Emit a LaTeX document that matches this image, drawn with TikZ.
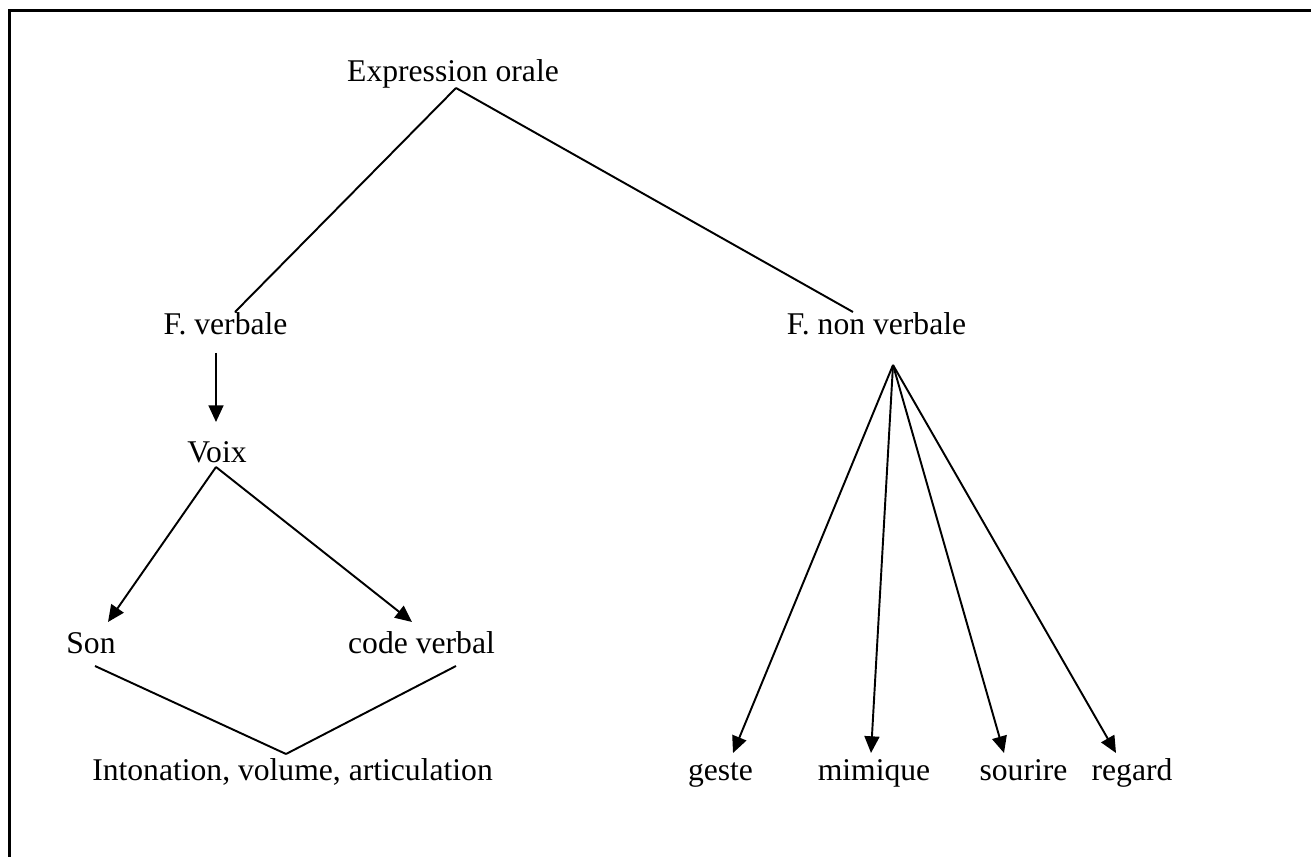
\documentclass[tikz,border=0pt]{standalone}
\usepackage{fontspec}
\setmainfont{Liberation Serif}
\usetikzlibrary{arrows.meta,calc}

\begin{document}
\begin{tikzpicture}[x=0.02cm, y=-0.02cm, line width=1.1pt, >={Triangle[length=9.5pt, width=8.5pt]}]
    \tikzstyle{mot}=[inner sep=0pt, anchor=base, font=\fontsize{18}{21}\selectfont]
    \tikzstyle{cadre}=[line width=1.2pt]

    \useasboundingbox (0,0) rectangle (1311,857);
    % Frame, only the top and left edges show
    \draw[cadre] (1311,10.5) -- (9.5,10.5) -- (9.5,857);

    % Words at custom coordinates (on their baselines)
    \node[mot] (eo) at (453,82) {Expression orale};
    \node[mot] (fv) at (225.5,335) {F. verbale};
    \node[mot] (fnv) at (876.5,335) {F. non verbale};
    \node[mot] (v) at (217,463) {Voix};
    \node[mot] (s) at (91,653) {Son};
    \node[mot] (cv) at (421.5,653) {code verbal};
    \node[mot] (iva) at (292.5,780) {Intonation, volume, articulation};
    \node[mot] (g) at (720.5,780) {geste};
    \node[mot] (m) at (874,780) {mimique};
    \node[mot] (so) at (1023.5,780) {sourire};
    \node[mot] (r) at (1132,780) {regard};

    % Branching points and tips, taken from the words
    \coordinate (eo-p) at ($(eo.base)+(3,6)$);
    \coordinate (fv-h) at ($(fv.base)+(9.5,-23)$);
    \coordinate (fv-b) at ($(fv.base)+(-9.5,18)$);
    \coordinate (fnv-h) at ($(fnv.base)+(-23.5,-23)$);
    \coordinate (fnv-p) at ($(fnv.base)+(16.5,30)$);
    \coordinate (v-h) at ($(v.base)+(-1,-41)$);
    \coordinate (v-p) at ($(v.base)+(-1,4)$);
    \coordinate (s-h) at ($(s.base)+(17,-31)$);
    \coordinate (s-b) at ($(s.base)+(4,13)$);
    \coordinate (cv-h) at ($(cv.base)+(-9.5,-31)$);
    \coordinate (cv-b) at ($(cv.base)+(34.5,13)$);
    \coordinate (iva-p) at ($(iva.base)+(-6.5,-26)$);
    \coordinate (g-h) at ($(g.base)+(12.5,-27)$);
    \coordinate (m-h) at ($(m.base)+(-3,-27)$);
    \coordinate (so-h) at ($(so.base)+(-19.5,-27)$);
    \coordinate (r-h) at ($(r.base)+(-16,-27)$);

    % Links
    \path[draw]
      (eo-p) edge (fv-h)
      (eo-p) edge (fnv-h)
      (fv-b) edge[->] (v-h)
      (v-p) edge[->] (s-h)
      (v-p) edge[->] (cv-h)
      (s-b) edge (iva-p)
      (cv-b) edge (iva-p)
      (fnv-p) edge[->] (g-h)
      (fnv-p) edge[->] (m-h)
      (fnv-p) edge[->] (so-h)
      (fnv-p) edge[->] (r-h);
\end{tikzpicture}
\end{document}
